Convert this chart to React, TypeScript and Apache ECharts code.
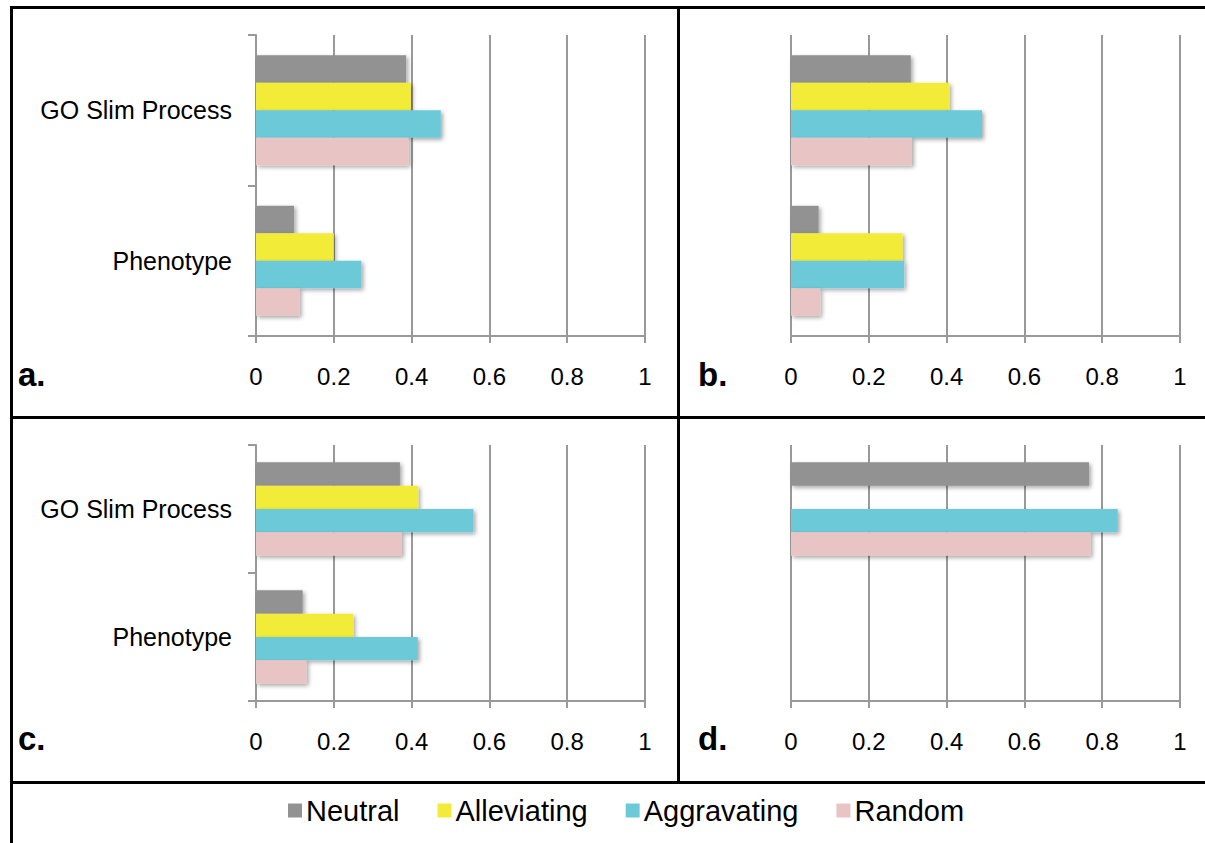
import React, { useEffect, useRef } from "react";
import * as echarts from "echarts";

const categories = ["GO Slim Process", "Phenotype"];
const seriesNames = ["Neutral", "Alleviating", "Aggravating", "Random"];
const seriesColors = ["#929292", "#f2eb38", "#6ccad8", "#e8c5c4"];
const xTicks = [0, 0.2, 0.4, 0.6, 0.8, 1];

// values per panel, order matches categories
const aNeutral = [0.386, 0.098];
const aAlleviating = [0.398, 0.2];
const aAggravating = [0.475, 0.271];
const aRandom = [0.392, 0.112];

const bNeutral = [0.308, 0.071];
const bAlleviating = [0.407, 0.287];
const bAggravating = [0.491, 0.291];
const bRandom = [0.311, 0.075];

const cNeutral = [0.37, 0.12];
const cAlleviating = [0.417, 0.25];
const cAggravating = [0.559, 0.416];
const cRandom = [0.375, 0.13];

const dNeutral = [0.766, null];
const dAlleviating = [null, null];
const dAggravating = [0.84, null];
const dRandom = [0.77, null];

const panelLabels = ["a.", "b.", "c.", "d."];

const panels = [
  { data: [aNeutral, aAlleviating, aAggravating, aRandom], showCat: true },
  { data: [bNeutral, bAlleviating, bAggravating, bRandom], showCat: false },
  { data: [cNeutral, cAlleviating, cAggravating, cRandom], showCat: true },
  { data: [dNeutral, dAlleviating, dAggravating, dRandom], showCat: false },
];

const GRAY = "#999999";
const FONT = "'Liberation Sans', Arial, Helvetica, sans-serif";

export default function App() {
  const ref = useRef<HTMLDivElement>(null);
  useEffect(() => {
    document.body.style.margin = "0";
    const chart = echarts.init(ref.current!, null, { renderer: "svg" });
    const grids = [
      { left: 256, right: 560, top: 35, bottom: 507 },
      { left: 791, right: 25, top: 35, bottom: 507 },
      { left: 256, right: 560, top: 445, bottom: 142 },
      { left: 791, right: 25, top: 445, bottom: 142 },
    ];
    const xAxis = grids.map((_, i) => ({
      type: "value",
      gridIndex: i,
      min: xTicks[0],
      max: xTicks[xTicks.length - 1],
      interval: 0.2,
      axisLine: { show: true, lineStyle: { color: GRAY, width: 2 } },
      axisTick: { show: true, length: 7, lineStyle: { color: GRAY, width: 2 } },
      splitLine: { show: true, lineStyle: { color: GRAY, width: 2 } },
      axisLabel: {
        color: "#000",
        fontSize: 24,
        fontFamily: FONT,
        margin: 28,
        formatter: (v: number) => String(Math.round(v * 10) / 10),
      },
    }));
    const yAxis = panels.map((p, i) => ({
      type: "category",
      gridIndex: i,
      data: categories,
      inverse: true,
      axisLine: { show: p.showCat, lineStyle: { color: GRAY, width: 2 } },
      axisTick: { show: p.showCat, length: 8, lineStyle: { color: GRAY, width: 2 } },
      axisLabel: {
        show: p.showCat,
        color: "#000",
        fontSize: 25,
        fontFamily: FONT,
        margin: 24,
        padding: [4, 0, 0, 0],
      },
      splitLine: { show: false },
    }));
    const series: any[] = [];
    panels.forEach((p, i) => {
      p.data.forEach((vals, s) => {
        series.push({
          type: "bar",
          name: seriesNames[s],
          xAxisIndex: i,
          yAxisIndex: i,
          data: vals,
          barGap: 0,
          barCategoryGap: "27%",
          itemStyle: {
            color: seriesColors[s],
            shadowColor: "rgba(0,0,0,0.35)",
            shadowBlur: 4,
            shadowOffsetX: 2,
            shadowOffsetY: 2,
          },
        });
      });
    });
    const border = (x: number, y: number, w: number, h: number) => ({
      type: "rect",
      shape: { x, y, width: w, height: h },
      style: { fill: "#000" },
      silent: true,
    });
    const labelPos = [
      [18, 391],
      [698, 391],
      [18, 755],
      [698, 755],
    ];
    const graphic: any[] = [
      border(10, 6, 1195, 3),
      border(10, 6, 3, 837),
      border(677, 6, 3, 777),
      border(10, 416, 1195, 3),
      border(10, 781, 1195, 3),
      ...panelLabels.map((t, i) => ({
        type: "text",
        x: labelPos[i][0],
        y: labelPos[i][1],
        style: {
          text: t,
          fill: "#000",
          font: `bold 33px ${FONT}`,
          textVerticalAlign: "bottom",
        },
        silent: true,
      })),
    ];
    chart.setOption({
      animation: false,
      backgroundColor: "#fff",
      grid: grids,
      xAxis,
      yAxis,
      series,
      graphic,
      legend: {
        data: seriesNames,
        left: 283,
        top: 791,
        itemWidth: 14,
        itemHeight: 14,
        itemGap: 38,
        icon: "rect",
        textStyle: { color: "#000", fontSize: 29, fontFamily: FONT, padding: [0, 0, 0, -1] },
      },
    });
    return () => chart.dispose();
  }, []);
  return (
    <div
      ref={ref}
      style={{ position: "absolute", left: 0, top: 0, width: 1205, height: 843 }}
    />
  );
}
